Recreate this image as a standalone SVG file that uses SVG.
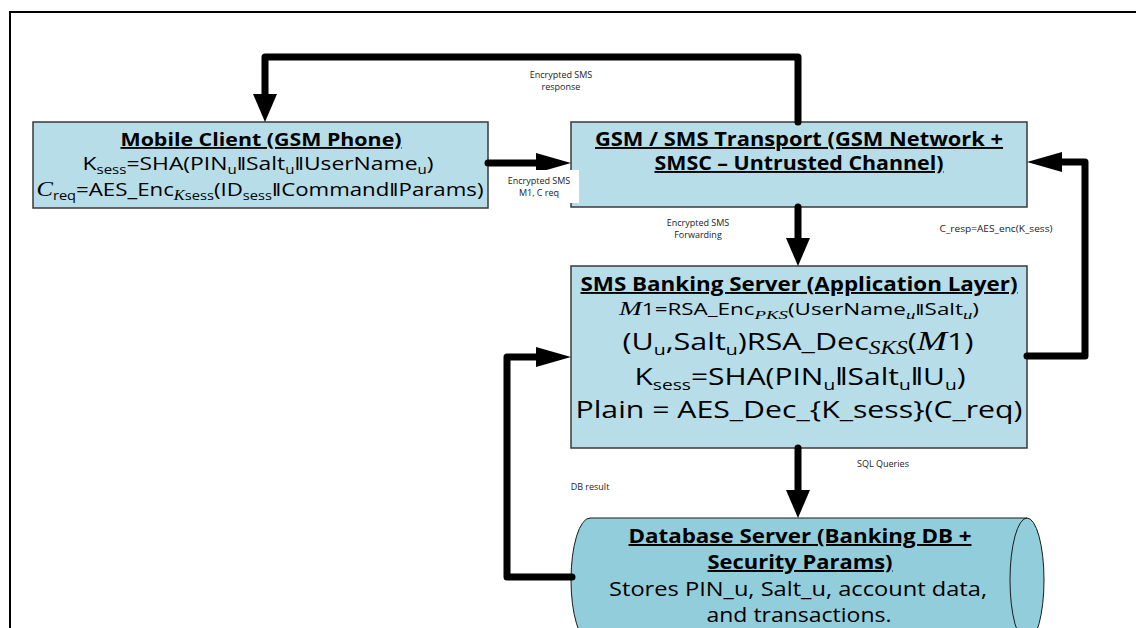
<svg xmlns="http://www.w3.org/2000/svg" width="1136" height="628" viewBox="0 0 1136 628">
<style>
.t{font-family:"Open Sans","Liberation Sans",sans-serif;fill:#000;text-anchor:middle}
.b{font-weight:bold;text-decoration:underline}
.mi{font-family:"Liberation Serif",serif;font-style:italic}
.lbl{font-family:"Open Sans","Liberation Sans",sans-serif;font-size:9px;fill:#222;text-anchor:middle}
.box{fill:#b7dde8;stroke:#3a3a3a;stroke-width:1.5}
.conn{fill:none;stroke:#000;stroke-width:7;stroke-linejoin:round;stroke-linecap:round}
</style>
<defs>
<marker id="aV" markerUnits="userSpaceOnUse" viewBox="0 -13 29 26" refX="0" refY="0" markerWidth="29" markerHeight="26" orient="auto" overflow="visible"><path d="M0,-12 L28,0 L0,12 z" fill="#000"/></marker>
<marker id="aH" markerUnits="userSpaceOnUse" viewBox="0 -11 36 22" refX="0" refY="0" markerWidth="36" markerHeight="22" orient="auto" overflow="visible"><path d="M0,-10 L35,0 L0,10 z" fill="#000"/></marker>
</defs>
<rect width="1136" height="628" fill="#fff"/>
<g id="frame" fill="none" stroke="#000" stroke-width="2"><path d="M10,628 V12 H1136"/></g>

<g id="mobile">
<rect class="box" x="33" y="122" width="455" height="86"/>
<text class="t b" x="261" y="146" font-size="18.5" textLength="281" lengthAdjust="spacingAndGlyphs">Mobile Client (GSM Phone)</text>
<text class="t" x="258" y="170" font-size="19" textLength="351" lengthAdjust="spacingAndGlyphs">K<tspan dy="3.5" font-size="12.5">sess</tspan><tspan dy="-3.5">=SHA(PIN</tspan><tspan dy="3.5" font-size="12.5">u</tspan><tspan dy="-3.5">‖Salt</tspan><tspan dy="3.5" font-size="12.5">u</tspan><tspan dy="-3.5">‖UserName</tspan><tspan dy="3.5" font-size="12.5">u</tspan><tspan dy="-3.5">)</tspan></text>
<text class="t" x="260" y="196" font-size="19" textLength="447" lengthAdjust="spacingAndGlyphs"><tspan class="mi" font-size="21">C</tspan><tspan dy="3.5" font-size="12.5">req</tspan><tspan dy="-3.5">=AES_Enc</tspan><tspan dy="3.5" font-size="14" class="mi">K</tspan><tspan font-size="12.5">sess</tspan><tspan dy="-3.5">(ID</tspan><tspan dy="3.5" font-size="12.5">sess</tspan><tspan dy="-3.5">‖Command‖Params)</tspan></text>
</g>

<g id="gsm">
<rect class="box" x="571" y="122" width="456" height="85"/>
<text class="t b" x="799" y="146" font-size="19" textLength="408" lengthAdjust="spacingAndGlyphs">GSM / SMS Transport (GSM Network +</text>
<text class="t b" x="799" y="170" font-size="19" textLength="289" lengthAdjust="spacingAndGlyphs">SMSC – Untrusted Channel)</text>
</g>

<g id="server">
<rect class="box" x="571" y="266" width="456" height="182"/>
<text class="t b" x="799" y="291" font-size="19" textLength="437" lengthAdjust="spacingAndGlyphs">SMS Banking Server (Application Layer)</text>
<text class="t" x="799" y="315" font-size="15.5" textLength="360" lengthAdjust="spacingAndGlyphs"><tspan class="mi" font-size="19">M</tspan>1=RSA_Enc<tspan dy="3.5" class="mi" font-size="13">PKS</tspan><tspan dy="-3.5">(UserName</tspan><tspan dy="3.5" class="mi" font-size="13">u</tspan><tspan dy="-3.5">‖Salt</tspan><tspan dy="3.5" class="mi" font-size="13">u</tspan><tspan dy="-3.5">)</tspan></text>
<text class="t" x="798" y="350" font-size="23.5" textLength="351" lengthAdjust="spacingAndGlyphs">(U<tspan dy="5" font-size="15">u</tspan><tspan dy="-5">,Salt</tspan><tspan dy="5" font-size="15">u</tspan><tspan dy="-5">)RSA_Dec</tspan><tspan dy="4" class="mi" font-size="18">SKS</tspan><tspan dy="-4">(</tspan><tspan class="mi" font-size="28">M</tspan>1)</text>
<text class="t" x="800" y="385" font-size="23.5" textLength="331" lengthAdjust="spacingAndGlyphs">K<tspan dy="5" font-size="15">sess</tspan><tspan dy="-5">=SHA(PIN</tspan><tspan dy="5" font-size="15">u</tspan><tspan dy="-5">‖Salt</tspan><tspan dy="5" font-size="15">u</tspan><tspan dy="-5">‖U</tspan><tspan dy="5" font-size="15">u</tspan><tspan dy="-5">)</tspan></text>
<text class="t" x="799" y="418" font-size="23.5" textLength="447" lengthAdjust="spacingAndGlyphs">Plain = AES_Dec_{K_sess}(C_req)</text>
</g>

<g id="database">
<path d="M590,518 L1027,518 A17,62 0 0 1 1027,642 L590,642 A19,62 0 0 1 590,518 Z" fill="#92cddc" stroke="#1a1a1a" stroke-width="1"/>
<path d="M1027,642 A17,62 0 0 1 1027,518" fill="none" stroke="#1a1a1a" stroke-width="1"/>
<text class="t b" x="800" y="543" font-size="19.5" textLength="343" lengthAdjust="spacingAndGlyphs">Database Server (Banking DB +</text>
<text class="t b" x="800" y="569" font-size="19.5" textLength="185" lengthAdjust="spacingAndGlyphs">Security Params)</text>
<text class="t" x="798" y="596" font-size="19.5" textLength="378" lengthAdjust="spacingAndGlyphs">Stores PIN_u, Salt_u, account data,</text>
<text class="t" x="799" y="622" font-size="19.5" textLength="185" lengthAdjust="spacingAndGlyphs">and transactions.</text>
</g>

<g id="connectors">
<path class="conn" d="M798,122 V57 H265 V94" marker-end="url(#aV)"/>
<path class="conn" d="M488,163 H536" marker-end="url(#aH)"/>
<path class="conn" d="M798,207 V238" marker-end="url(#aV)"/>
<path class="conn" d="M1027,356 H1085 V162 H1062" marker-end="url(#aH)"/>
<path class="conn" d="M798,448 V490" marker-end="url(#aV)"/>
<path class="conn" d="M572,577 H507 V357 H536" marker-end="url(#aH)"/>
<rect x="497" y="170" width="82" height="33" fill="#fff"/>
<rect x="843" y="449" width="80" height="28" fill="#fff"/>
<text class="lbl" x="561" y="78">Encrypted SMS</text>
<text class="lbl" x="561" y="90">response</text>
<text class="lbl" x="539" y="184">Encrypted SMS</text>
<text class="lbl" x="539" y="196">M1, C req</text>
<text class="lbl" x="698" y="226">Encrypted SMS</text>
<text class="lbl" x="698" y="238">Forwarding</text>
<text class="lbl" x="996" y="232" textLength="113" lengthAdjust="spacingAndGlyphs">C_resp=AES_enc(K_sess)</text>
<text class="lbl" x="883" y="467">SQL Queries</text>
<text class="lbl" x="590" y="490">DB result</text>
</g>
</svg>
